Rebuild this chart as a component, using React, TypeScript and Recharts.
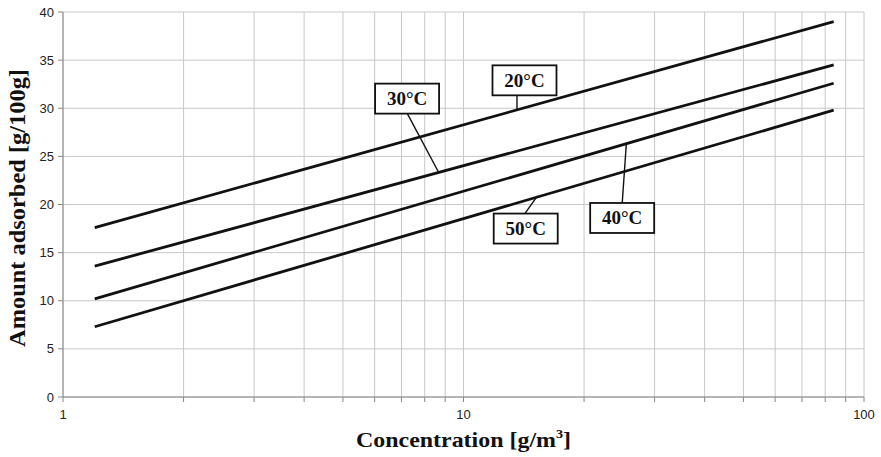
import React from "react";
import {
  LineChart,
  Line,
  XAxis,
  YAxis,
  CartesianGrid,
  ReferenceLine,
  ReferenceDot,
  Label,
} from "recharts";

// Concentration [g/m3] at the start and end of each isotherm
const concentration = [1.2, 84];
// Amount adsorbed [g/100g] per temperature
const t20 = [17.6, 39.0];
const t30 = [13.6, 34.5];
const t40 = [10.2, 32.6];
const t50 = [7.3, 29.8];

const xTicks = [1, 2, 3, 4, 5, 6, 7, 8, 9, 10, 20, 30, 40, 50, 60, 70, 80, 90, 100];
const xLabeled = [1, 10, 100];
const yTicks = [0, 5, 10, 15, 20, 25, 30, 35, 40];

// label boxes: text, box centre (data coords), leader from -> to (data coords)
const labelNames = ["20°C", "30°C", "40°C", "50°C"];
const labelCenters = [
  { x: 14.2, y: 32.9 },
  { x: 7.23, y: 31.0 },
  { x: 24.9, y: 18.6 },
  { x: 14.3, y: 17.5 },
];
const leaderFrom = [
  { x: 13.6, y: 31.4 },
  { x: 7.23, y: 29.5 },
  { x: 24.9, y: 20.1 },
  { x: 14.2, y: 19.0 },
];
const leaderTo = [
  { x: 13.6, y: 29.9 },
  { x: 8.68, y: 23.3 },
  { x: 25.5, y: 26.3 },
  { x: 15.3, y: 20.9 },
];

const data = concentration.map((c, i) => ({
  x: c,
  t20: t20[i],
  t30: t30[i],
  t40: t40[i],
  t50: t50[i],
}));

const serif = "'Liberation Serif', 'Times New Roman', serif";
const sans = "'Liberation Sans', Arial, sans-serif";

const BoxShape = (text: string) => (props: any) => {
  const { cx, cy } = props;
  const w = 64;
  const h = 30;
  return (
    <g>
      <rect
        x={cx - w / 2}
        y={cy - h / 2}
        width={w}
        height={h}
        fill="#fff"
        stroke="#111"
        strokeWidth={1.8}
      />
      <text
        x={cx}
        y={cy + 6.5}
        textAnchor="middle"
        fontFamily={serif}
        fontWeight="bold"
        fontSize={19}
        fill="#111"
      >
        {text}
      </text>
    </g>
  );
};

const XTitle = (props: any) => {
  const vb = props.viewBox || {};
  const cx = vb.x + vb.width / 2;
  return (
    <text
      x={cx}
      y={447}
      textAnchor="middle"
      fontFamily={serif}
      fontWeight="bold"
      fontSize={22}
      fill="#111"
      textLength={215}
      lengthAdjust="spacingAndGlyphs"
    >
      Concentration [g/m
      <tspan dy={-9} fontSize={13}>
        3
      </tspan>
      <tspan dy={9}>]</tspan>
    </text>
  );
};

const YTitle = () => (
  <text
    x={0}
    y={0}
    transform="translate(25,208) rotate(-90)"
    textAnchor="middle"
    fontFamily={serif}
    fontWeight="bold"
    fontSize={23}
    fill="#111"
    textLength={278}
    lengthAdjust="spacingAndGlyphs"
  >
    Amount adsorbed [g/100g]
  </text>
);

export default function App() {
  return (
    <div style={{ position: "absolute", left: 0, top: 0 }}>
      <LineChart
        width={881}
        height={457}
        data={data}
        margin={{ top: 12, right: 17, bottom: 0, left: 0 }}
      >
        <CartesianGrid stroke="#c8c8c8" strokeWidth={1} />
        <XAxis
          dataKey="x"
          type="number"
          scale="log"
          domain={[1, 100]}
          ticks={xTicks}
          interval={0}
          allowDataOverflow
          height={60}
          tickSize={5}
          tickMargin={8}
          stroke="#888"
          tick={{ fill: "#222", fontFamily: sans, fontSize: 13 }}
          tickFormatter={(v: number) => (xLabeled.includes(v) ? String(v) : "")}
        >
          <Label content={<XTitle />} />
        </XAxis>
        <YAxis
          type="number"
          domain={[0, 40]}
          ticks={yTicks}
          interval={0}
          width={63}
          tickSize={5}
          tickMargin={4}
          stroke="#888"
          tick={{ fill: "#222", fontFamily: sans, fontSize: 13 }}
        >
          <Label content={<YTitle />} />
        </YAxis>
        <Line dataKey="t20" stroke="#111" strokeWidth={2.8} dot={false} isAnimationActive={false} />
        <Line dataKey="t30" stroke="#111" strokeWidth={2.8} dot={false} isAnimationActive={false} />
        <Line dataKey="t40" stroke="#111" strokeWidth={2.8} dot={false} isAnimationActive={false} />
        <Line dataKey="t50" stroke="#111" strokeWidth={2.8} dot={false} isAnimationActive={false} />
        {labelNames.map((n, i) => (
          <ReferenceLine
            key={"l" + i}
            segment={[leaderFrom[i], leaderTo[i]]}
            stroke="#111"
            strokeWidth={1.4}
          />
        ))}
        {labelNames.map((n, i) => (
          <ReferenceDot
            key={"d" + i}
            x={labelCenters[i].x}
            y={labelCenters[i].y}
            r={1}
            shape={BoxShape(n)}
          />
        ))}
      </LineChart>
    </div>
  );
}
